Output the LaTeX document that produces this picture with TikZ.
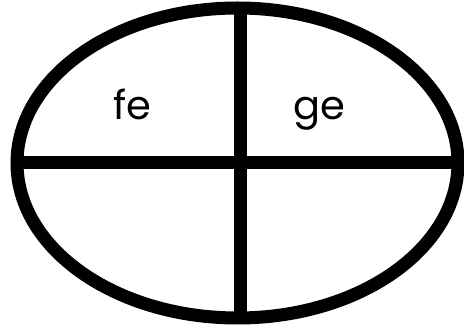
\documentclass[tikz,border=0pt]{standalone}
\usepackage{fontspec}
\setmainfont{Poppins}
\begin{document}
\begin{tikzpicture}[x=1pt,y=-1pt,
  thickline/.style={line width=13pt,black},
  lbl/.style={anchor=base,font=\fontsize{40}{44}\selectfont,inner sep=0pt}]
\useasboundingbox (0,0) rectangle (464,328);
\coordinate (c) at (237.5,163);
\draw[thickline] (c) ellipse [x radius=220.5, y radius=155];
\coordinate (vt) at (240,8);
\coordinate (vb) at (240,318);
\coordinate (hl) at (17,162.5);
\coordinate (hr) at (458,162.5);
\draw[thickline] (vt) -- (vb);
\draw[thickline] (hl) -- (hr);
\node[lbl] (fe) at (132,120) {fe};
\node[lbl] (ge) at (319,120) {ge};
\end{tikzpicture}
\end{document}
